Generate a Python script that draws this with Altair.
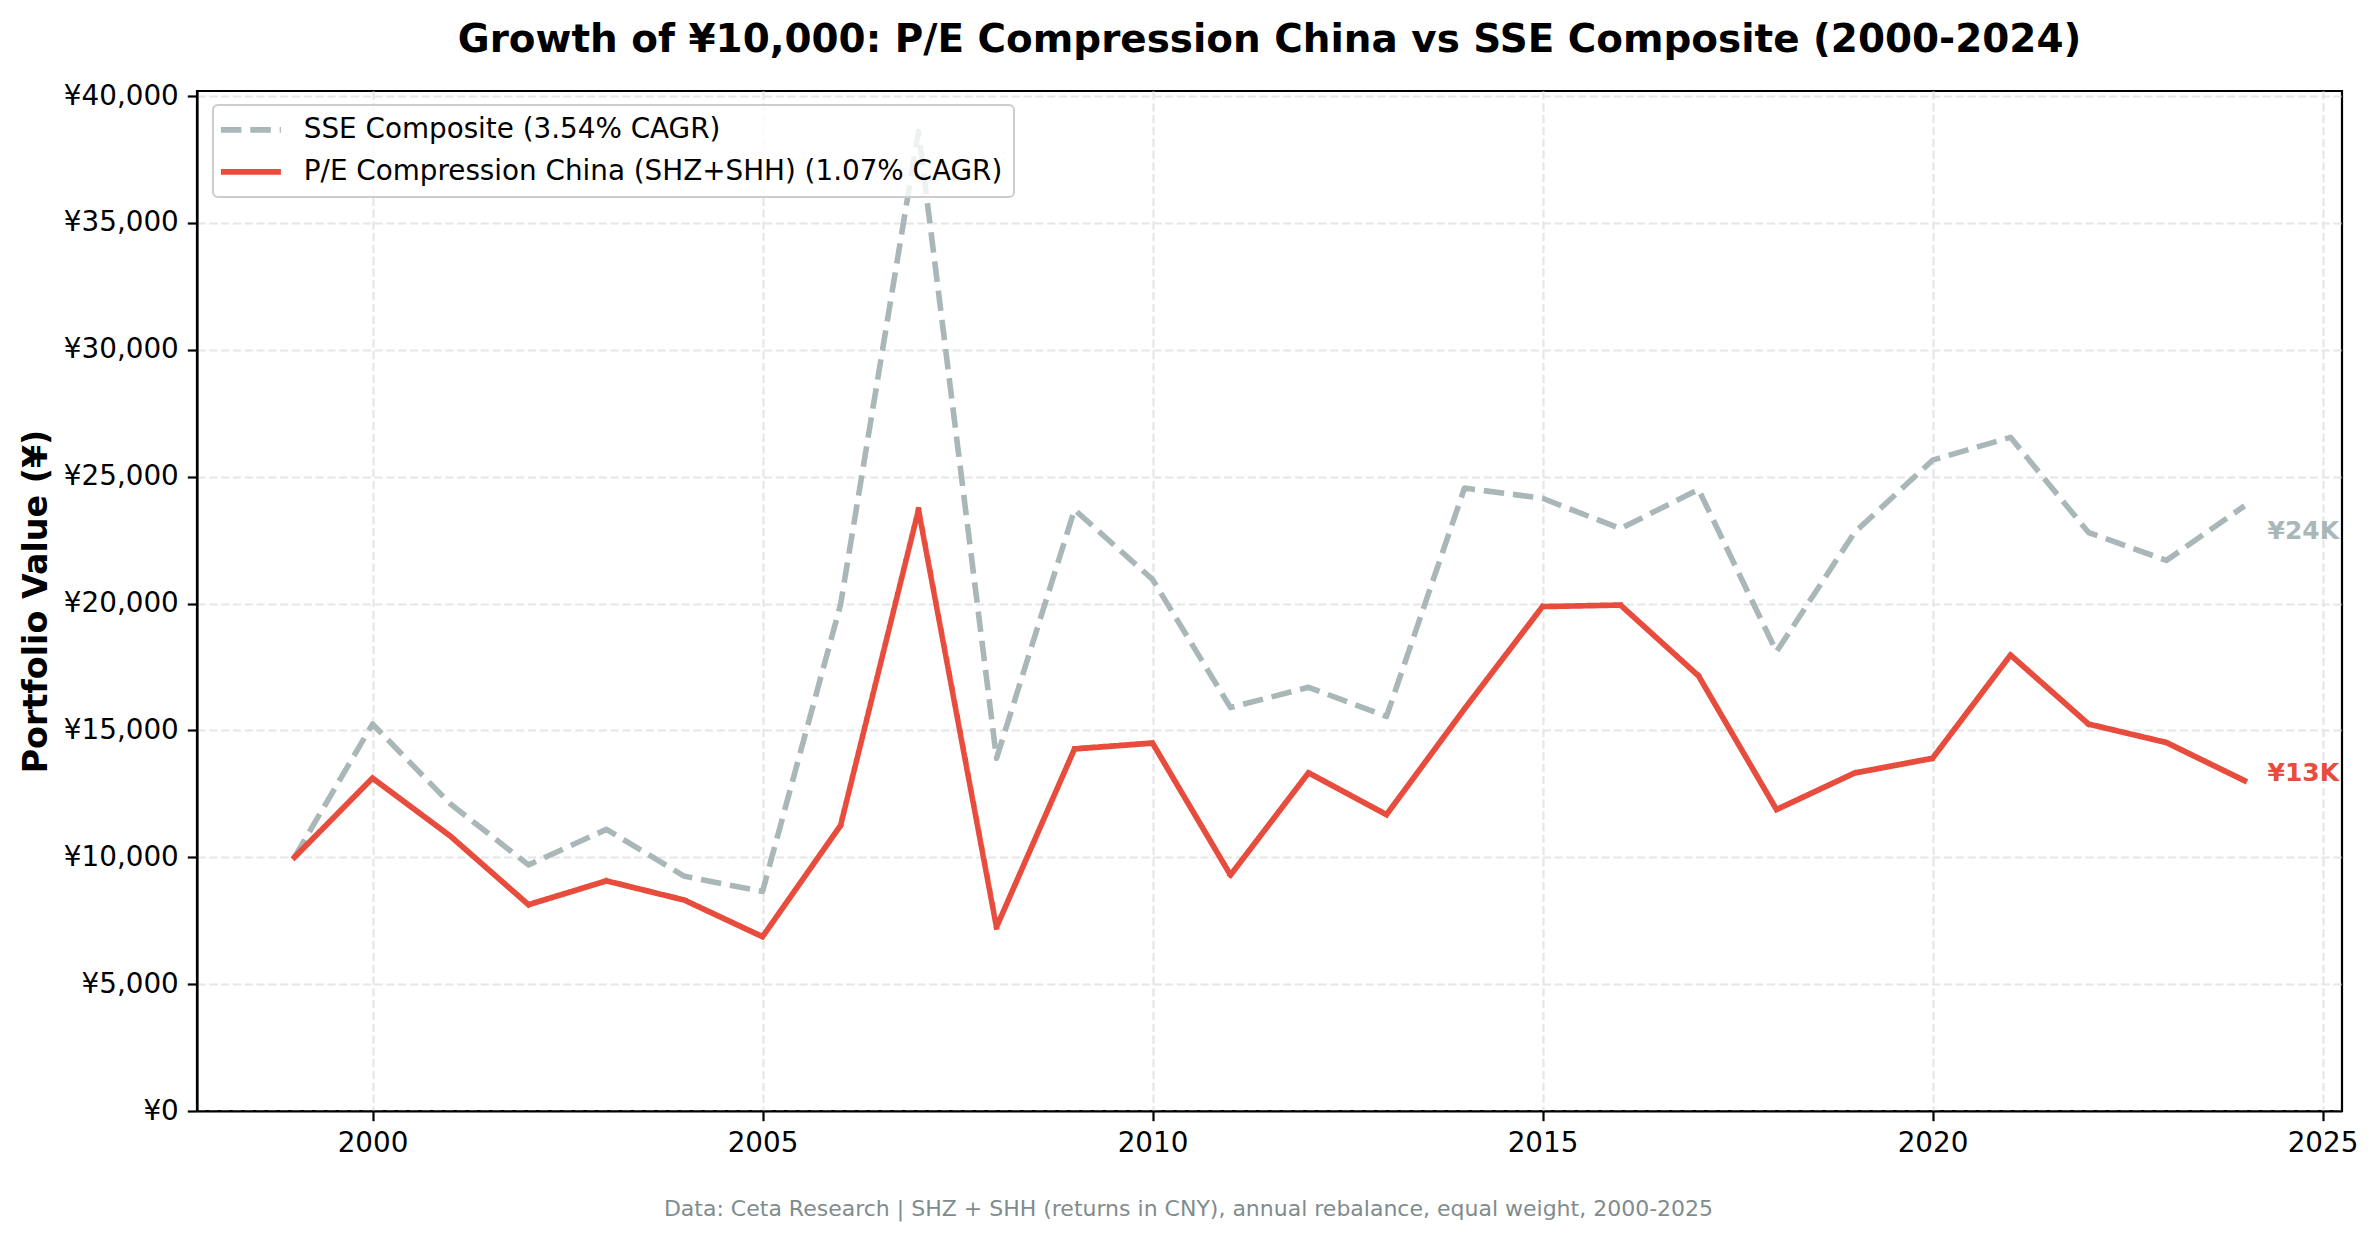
import altair as alt
import pandas as pd

years = list(range(1999, 2025))
sse = [10000, 15250, 12100, 9700, 11100, 9250, 8650, 19950, 38600, 13900,
       23700, 20950, 15900, 16700, 15550, 24550, 24150, 22950, 24500, 18100,
       22800, 25650, 26550, 22800, 21700, 23850]
pe = [10000, 13120, 10830, 8130, 9070, 8310, 6870, 11250, 23700, 7250,
      14270, 14500, 9300, 13330, 11680, 15850, 19880, 19940, 17150, 11880,
      13320, 13900, 17970, 15250, 14520, 13020]
series_names = ["SSE Composite (3.54% CAGR)",
                "P/E Compression China (SHZ+SHH) (1.07% CAGR)"]
end_labels = ["¥24K", "¥13K"]
x_ticks = [2000, 2005, 2010, 2015, 2020, 2025]
y_ticks = list(range(0, 40001, 5000))

rows = []
for i, y in enumerate(years):
    rows.append({"year": y, "value": sse[i], "series": series_names[0], "label": end_labels[0]})
    rows.append({"year": y, "value": pe[i], "series": series_names[1], "label": end_labels[1]})
df = pd.DataFrame(rows)

GRAY = "#aab7b8"
RED = "#e74c3c"
FONT = "DejaVu Sans"

x_enc = alt.X("year:Q",
              scale=alt.Scale(domain=[1997.75, 2025.25], nice=False, zero=False),
              axis=alt.Axis(values=x_ticks, format="d",
                            title="Data: Ceta Research | SHZ + SHH (returns in CNY), annual rebalance, equal weight, 2000-2025",
                            titleFontSize=22, titleFontWeight="normal", titleColor="#7f8c8d",
                            titleFont=FONT, titleX=991, titleY=97, titleBaseline="middle"))
y_enc = alt.Y("value:Q",
              scale=alt.Scale(domain=[0, 40200], nice=False),
              axis=alt.Axis(values=y_ticks, labelExpr="'¥' + format(datum.value, ',')",
                            title="Portfolio Value (¥)", titleFontSize=33.3,
                            titleFontWeight="bold", titleFont=FONT, titlePadding=10,
                            titleColor="black"))

def make_legend():
    return alt.Legend(orient="none", legendX=16, legendY=14, title=None,
                      symbolType="M-1.7,0H4.3", symbolSize=400,
                      symbolStrokeWidth=5.6, labelOffset=52,
                      labelFontSize=27.8, labelFont=FONT, labelColor="black",
                      padding=11, rowPadding=13, labelLimit=3000,
                      fillColor="rgba(255,255,255,0.8)",
                      strokeColor="#cccccc", cornerRadius=5)

color_enc = alt.Color("series:N",
                      scale=alt.Scale(domain=series_names, range=[GRAY, RED]),
                      legend=make_legend())
dash_enc = alt.StrokeDash("series:N",
                          scale=alt.Scale(domain=series_names, range=[[20.5, 8.9], [1, 0]]),
                          legend=make_legend())

base = alt.Chart(df)

sse_line = base.transform_filter(alt.datum.series == series_names[0]).mark_line(
    strokeWidth=5.6, strokeJoin="round", strokeCap="butt"
).encode(x=x_enc, y=y_enc, color=color_enc, strokeDash=dash_enc)

pe_line = base.transform_filter(alt.datum.series == series_names[1]).mark_line(
    strokeWidth=5.6, strokeJoin="round", strokeCap="square"
).encode(x=x_enc, y=y_enc, color=color_enc, strokeDash=dash_enc)

sse_text = base.transform_filter(
    (alt.datum.series == series_names[0]) & (alt.datum.year == 2024)
).mark_text(align="left", baseline="middle", dx=23, dy=25, font=FONT,
            fontSize=25, fontWeight="bold", color=GRAY
).encode(x="year:Q", y="value:Q", text="label:N")

pe_text = base.transform_filter(
    (alt.datum.series == series_names[1]) & (alt.datum.year == 2024)
).mark_text(align="left", baseline="middle", dx=23, dy=-8, font=FONT,
            fontSize=25, fontWeight="bold", color=RED
).encode(x="year:Q", y="value:Q", text="label:N")

chart = alt.layer(sse_line, pe_line, sse_text, pe_text).properties(
    width=2145, height=1020,
    title=alt.TitleParams(
        text="Growth of ¥10,000: P/E Compression China vs SSE Composite (2000-2024)",
        fontSize=38.9, font=FONT, fontWeight="bold", color="black",
        anchor="middle", baseline="alphabetic", offset=-9),
    autosize=alt.AutoSizeParams(type="none"),
    padding={"left": 189, "top": 83, "right": 20, "bottom": 115},
).configure_view(
    stroke="black", strokeWidth=2.2
).configure_axis(
    domainColor="black", domainWidth=2.2, tickColor="black", tickWidth=2.2,
    tickSize=9.7, labelFontSize=27.8, labelFont=FONT, labelColor="black",
    labelPadding=9, gridColor="#e6e6e6", gridDash=[8.2, 3.6], gridWidth=2.2
).configure_legend(
    strokeWidth=2
)

chart.save("out.html", embed_options={"renderer": "svg", "actions": False})
